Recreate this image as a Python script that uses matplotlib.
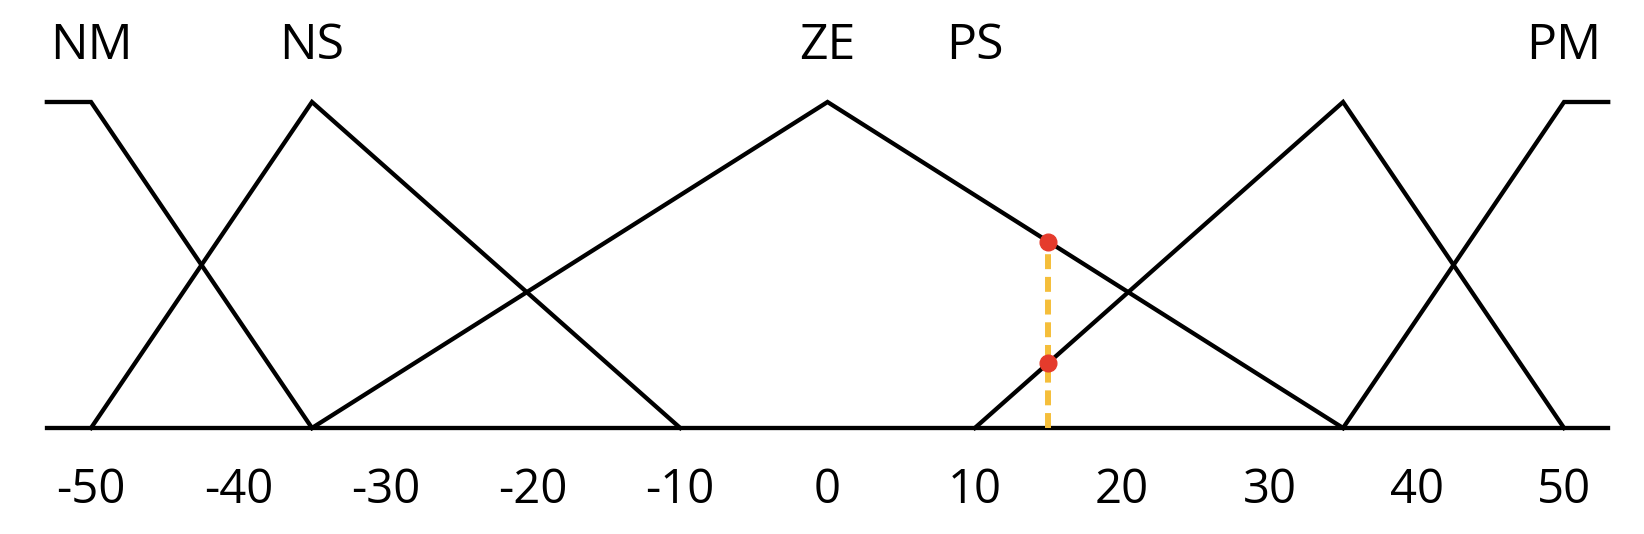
import numpy as np
import matplotlib.pyplot as plt

plt.rcParams['font.family'] = ['Open Sans', 'DejaVu Sans']

# membership functions (x breakpoints, y values)
nm_x = [-53, -50, -35]
nm_y = [1, 1, 0]
ns_x = [-50, -35, -10]
ns_y = [0, 1, 0]
ze_x = [-35, 0, 35]
ze_y = [0, 1, 0]
ps_x = [10, 35, 50]
ps_y = [0, 1, 0]
pm_x = [35, 50, 53]
pm_y = [0, 1, 1]
base_x = [-53, 53]
base_y = [0, 0]

names = ['NM', 'NS', 'ZE', 'PS', 'PM']
name_pos = [-50, -35, 0, 10, 50]
ticks = [-50, -40, -30, -20, -10, 0, 10, 20, 30, 40, 50]

x_in = 15  # input value

fig = plt.figure(figsize=(16.44, 5.34), dpi=100)
ax = fig.add_axes([0, 106 / 534, 1, 326 / 534])
ax.set_xlim(-56.18, 55.43)
ax.set_ylim(0, 1)

for xs, ys in [(nm_x, nm_y), (ns_x, ns_y), (ze_x, ze_y), (ps_x, ps_y), (pm_x, pm_y), (base_x, base_y)]:
    ax.plot(xs, ys, color='black', lw=3.1, clip_on=False, solid_joinstyle='miter')

# membership degrees at the input
mu_ze = np.interp(x_in, ze_x, ze_y)
mu_ps = np.interp(x_in, ps_x, ps_y)
ax.plot([x_in, x_in], [0, mu_ze], color='#F5BE3A', lw=4.3, dashes=(2.5, 1.3), clip_on=False, zorder=3)
ax.plot([x_in, x_in], [mu_ze, mu_ps], 'o', color='#E53B2C', ms=12, clip_on=False, zorder=4)

for n, p in zip(names, name_pos):
    ax.text(p, 1.17, n, ha='center', va='center', fontsize=36)

ax.set_xticks(ticks)
ax.set_xticklabels([str(t) for t in ticks], fontsize=34)
ax.tick_params(axis='x', length=0, pad=28)
ax.set_yticks([])
for s in ax.spines.values():
    s.set_visible(False)

plt.savefig('out.png', dpi=100)
